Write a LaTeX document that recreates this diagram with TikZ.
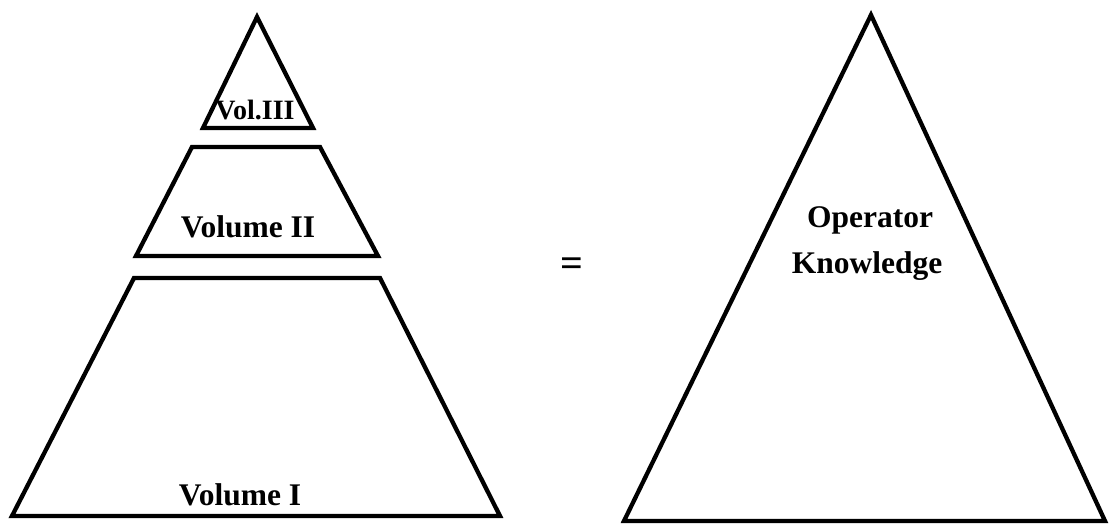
\documentclass[tikz,border=0pt]{standalone}
\usepackage{fontspec}
\setmainfont{Liberation Serif}
\begin{document}
\begin{tikzpicture}[x=1pt,y=-1pt,
  slab/.style={draw=black,line width=4.3pt,line join=miter,miter limit=10},
  lbl/.style={inner sep=0pt,font=\bfseries\fontsize{31.5}{44}\selectfont},
  smalllbl/.style={inner sep=0pt,font=\bfseries\fontsize{28}{34}\selectfont},
  eqlbl/.style={inner sep=0pt,font=\bfseries\fontsize{40}{44}\selectfont}]
\useasboundingbox[fill=white] (0,0) rectangle (1111,526);
% left pyramid
\draw[slab] (257,17) -- (313,128) -- (203,128) -- cycle;
\draw[slab] (192,147) -- (320,147) -- (378,256) -- (136,256) -- cycle;
\draw[slab] (134,278) -- (380,278) -- (500,516) -- (12,516) -- cycle;
% right triangle
\draw[slab] (871,15) -- (1105,521) -- (624,521) -- cycle;
% labels
\node[smalllbl,anchor=base] (v3) at (255,120) {Vol.III};
\node[lbl,anchor=base] (v2) at (248,238) {Volume II};
\node[lbl,anchor=base] (v1) at (240,505) {Volume I};
\node[lbl,anchor=base] (op) at (870,228) {Operator};
\node[lbl,anchor=base] (kn) at (867,274) {Knowledge};
\node[eqlbl,anchor=center] (eq) at (572,267) {=};
\end{tikzpicture}
\end{document}
